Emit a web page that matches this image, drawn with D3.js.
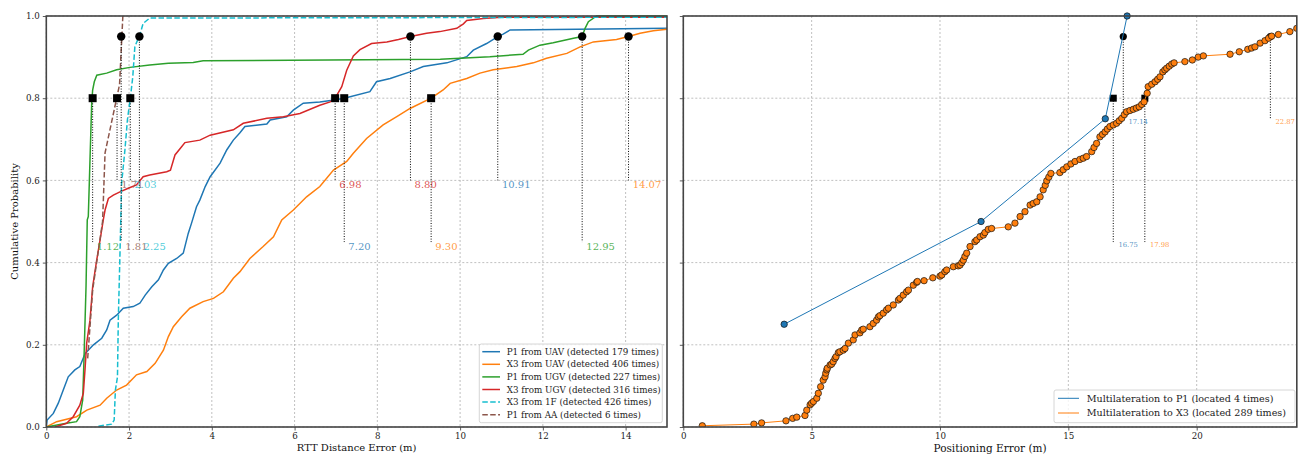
<!DOCTYPE html>
<html><head><meta charset="utf-8">
<script src="https://cdn.jsdelivr.net/npm/d3@7"></script>
<style>
body{margin:0;background:#fff}
svg{display:block}
text{font-family:"DejaVu Serif",serif}
</style>
</head><body>
<svg id="c" width="1298" height="454"></svg>
<script>
// ---------------- DATA ----------------
const leftXTicks = [0, 2, 4, 6, 8, 10, 12, 14];
const yTicks = [0, 0.2, 0.4, 0.6, 0.8, 1.0];
const rightXTicks = [0, 5, 10, 15, 20];

const leftNames = [
  "P1 from UAV (detected 179 times)",
  "X3 from UAV (detected 406 times)",
  "P1 from UGV (detected 227 times)",
  "X3 from UGV (detected 316 times)",
  "X3 from 1F (detected 426 times)",
  "P1 from AA (detected 6 times)"
];
const leftColors = ["#1f77b4", "#ff7f0e", "#2ca02c", "#d62728", "#17becf", "#8c564b"];
const leftDashed = [false, false, false, false, true, true];

const p1FromUAV = [[0,0],[0.02,0.017],[0.17,0.033],[0.29,0.058],[0.41,0.09],[0.53,0.122],[0.69,0.139],[0.81,0.147],[0.94,0.179],[1.14,0.2],[1.34,0.216],[1.46,0.236],[1.54,0.26],[1.70,0.272],[1.86,0.289],[2.10,0.293],[2.26,0.301],[2.39,0.321],[2.55,0.341],[2.71,0.358],[2.83,0.382],[2.95,0.398],[3.15,0.41],[3.31,0.423],[3.43,0.471],[3.51,0.496],[3.63,0.536],[3.71,0.552],[3.84,0.585],[3.96,0.609],[4.20,0.642],[4.36,0.674],[4.52,0.698],[4.68,0.716],[4.80,0.731],[5.33,0.737],[5.41,0.747],[5.81,0.755],[5.97,0.771],[6.21,0.788],[6.61,0.791],[7.0,0.796],[7.20,0.80],[7.82,0.816],[7.98,0.84],[8.31,0.848],[8.79,0.864],[9.11,0.877],[9.68,0.886],[10.16,0.901],[10.32,0.917],[10.64,0.933],[10.91,0.95],[11.04,0.956],[11.21,0.966],[15,0.970]];
const x3FromUAV = [[0,0],[0.25,0.013],[0.73,0.025],[0.98,0.041],[1.30,0.053],[1.46,0.07],[1.70,0.09],[1.94,0.102],[2.18,0.127],[2.43,0.135],[2.63,0.155],[2.83,0.187],[2.95,0.22],[3.07,0.244],[3.27,0.268],[3.47,0.289],[3.79,0.305],[4.04,0.313],[4.28,0.329],[4.52,0.362],[4.68,0.378],[4.92,0.41],[5.24,0.439],[5.49,0.463],[5.69,0.504],[5.97,0.528],[6.29,0.56],[6.61,0.585],[6.94,0.625],[7.26,0.646],[7.42,0.666],[7.74,0.702],[8.14,0.735],[8.47,0.755],[8.79,0.775],[9.30,0.80],[9.59,0.82],[9.76,0.836],[10.16,0.848],[10.48,0.861],[10.80,0.869],[11.37,0.877],[11.77,0.886],[12.09,0.897],[12.58,0.909],[12.90,0.925],[13.22,0.937],[13.78,0.943],[14.07,0.95],[14.35,0.958],[14.67,0.964],[15,0.968]];
const p1FromUGV = [[0,0],[0.49,0.009],[0.73,0.013],[0.81,0.025],[0.88,0.066],[0.91,0.163],[0.96,0.341],[0.99,0.504],[1.015,0.512],[1.056,0.65],[1.097,0.787],[1.12,0.82],[1.16,0.84],[1.22,0.856],[1.46,0.861],[1.70,0.869],[2.02,0.875],[2.5,0.881],[2.95,0.885],[3.55,0.887],[3.79,0.891],[9.52,0.895],[10.72,0.901],[11.52,0.907],[11.65,0.917],[11.93,0.929],[12.25,0.935],[12.74,0.946],[12.95,0.95],[13.02,0.97],[13.1,0.986],[13.3,1.0],[15,1.0]];
const x3FromUGV = [[0.21,0],[0.49,0.009],[0.65,0.025],[0.81,0.053],[0.895,0.082],[0.935,0.139],[0.976,0.204],[1.056,0.26],[1.12,0.341],[1.218,0.406],[1.30,0.455],[1.377,0.504],[1.42,0.528],[1.50,0.556],[1.62,0.564],[1.78,0.572],[1.98,0.581],[2.18,0.589],[2.34,0.609],[2.5,0.613],[2.91,0.621],[3.0,0.625],[3.11,0.662],[3.27,0.682],[3.35,0.692],[3.71,0.698],[3.96,0.71],[4.52,0.723],[4.76,0.739],[5.33,0.751],[5.73,0.755],[6.13,0.763],[6.61,0.783],[6.86,0.791],[6.98,0.80],[7.14,0.828],[7.26,0.868],[7.42,0.903],[7.58,0.918],[7.86,0.933],[8.23,0.937],[8.51,0.943],[8.80,0.95],[9.19,0.958],[9.51,0.962],[9.92,0.970],[10.08,0.981],[10.16,0.989],[10.56,0.994],[11.0,0.997],[15,0.997]];
const x3From1F = [[1.26,0.002],[1.58,0.007],[1.64,0.017],[1.67,0.09],[1.72,0.122],[1.74,0.26],[1.78,0.42],[1.80,0.504],[1.82,0.593],[1.90,0.674],[1.96,0.747],[2.03,0.80],[2.09,0.852],[2.14,0.925],[2.20,0.94],[2.25,0.95],[2.34,0.982],[2.5,0.995],[15,0.997]];
const p1FromAA = [[1.0,0.167],[1.12,0.333],[1.36,0.5],[1.42,0.667],[1.77,0.833],[1.85,1.0]];
const leftSeries = [p1FromUAV, x3FromUAV, p1FromUGV, x3FromUGV, x3From1F, p1FromAA];

// 80th and 95th percentile values, per series (same order)
const leftP80 = [7.20, 9.30, 1.12, 6.98, 2.03, 1.71];
const leftP95 = [10.91, 14.07, 12.95, 8.80, 2.25, 1.81];
const leftLabelLevels = [0.45, 0.6];

const rightNames = ["Multilateration to P1 (located 4 times)", "Multilateration to X3 (located 289 times)"];
const rightColors = ["#1f77b4", "#ff7f0e"];
const multiP1 = [[3.93,0.25],[11.60,0.5],[16.44,0.75],[17.29,1.0]];
const multiX3 = [[0.74,0.003],[2.75,0.007],[3.05,0.010],[4.00,0.015],[4.26,0.021],[4.42,0.024],[4.74,0.028],[4.81,0.041],[4.94,0.054],[5.00,0.058],[5.07,0.062],[5.20,0.070],[5.26,0.082],[5.35,0.098],[5.45,0.114],[5.52,0.122],[5.55,0.131],[5.59,0.139],[5.61,0.143],[5.72,0.151],[5.78,0.153],[5.84,0.159],[5.91,0.167],[5.95,0.171],[6.04,0.181],[6.10,0.183],[6.23,0.187],[6.30,0.191],[6.43,0.204],[6.62,0.212],[6.69,0.224],[6.88,0.229],[6.95,0.236],[7.01,0.238],[7.27,0.244],[7.40,0.252],[7.53,0.260],[7.60,0.268],[7.66,0.271],[7.79,0.277],[7.92,0.285],[7.99,0.289],[8.18,0.297],[8.38,0.309],[8.44,0.313],[8.57,0.321],[8.70,0.329],[8.77,0.333],[8.96,0.345],[9.09,0.352],[9.12,0.354],[9.38,0.356],[9.72,0.363],[10.00,0.367],[10.07,0.370],[10.19,0.378],[10.26,0.382],[10.52,0.390],[10.71,0.392],[10.78,0.394],[10.85,0.400],[10.91,0.406],[10.97,0.415],[11.04,0.423],[11.17,0.439],[11.36,0.451],[11.43,0.455],[11.56,0.463],[11.69,0.467],[11.75,0.473],[11.88,0.481],[12.01,0.483],[12.66,0.487],[12.92,0.496],[13.12,0.512],[13.31,0.524],[13.51,0.540],[13.63,0.544],[13.77,0.548],[13.90,0.560],[14.02,0.577],[14.10,0.588],[14.16,0.599],[14.24,0.608],[14.32,0.617],[14.67,0.619],[14.80,0.626],[14.94,0.633],[15.10,0.640],[15.26,0.646],[15.45,0.651],[15.58,0.654],[15.71,0.658],[15.91,0.670],[16.00,0.680],[16.10,0.690],[16.23,0.706],[16.33,0.712],[16.43,0.718],[16.52,0.725],[16.62,0.731],[16.75,0.735],[16.88,0.739],[16.98,0.745],[17.08,0.751],[17.18,0.760],[17.27,0.767],[17.40,0.770],[17.53,0.773],[17.65,0.776],[17.76,0.779],[17.86,0.785],[17.95,0.791],[18.07,0.812],[18.11,0.828],[18.25,0.834],[18.38,0.840],[18.48,0.846],[18.57,0.852],[18.68,0.864],[18.76,0.869],[18.83,0.873],[18.93,0.878],[19.03,0.883],[19.12,0.886],[19.54,0.889],[19.83,0.893],[20.06,0.900],[20.26,0.903],[21.30,0.907],[21.66,0.913],[21.99,0.919],[22.14,0.922],[22.27,0.925],[22.47,0.934],[22.66,0.940],[22.80,0.946],[22.92,0.951],[23.18,0.955],[23.63,0.962],[23.90,0.970]];
const rightSeries = [multiP1, multiX3];
const rightP80 = [16.75, 17.98];
const rightP95 = [17.14, 22.87];
const rightLabelLevels = [0.45, 0.75];

// ---------------- LAYOUT ----------------
const svg = d3.select("#c");
const L = {x0: 46.3, x1: 667, y0: 16, y1: 427};
const R = {x0: 683.3, x1: 1296.8, y0: 16, y1: 427};
const xL = d3.scaleLinear().domain([0, 15]).range([L.x0, L.x1]);
const xR = d3.scaleLinear().domain([0, 23.9]).range([R.x0, R.x1]);
const y = d3.scaleLinear().domain([0, 1]).range([L.y1, L.y0]);

const defs = svg.append("defs");
[["clipL", L], ["clipR", R]].forEach(([id, b]) => {
  defs.append("clipPath").attr("id", id).append("rect")
    .attr("x", b.x0).attr("y", b.y0 - 4).attr("width", b.x1 - b.x0).attr("height", b.y1 - b.y0 + 4);
});

function grid(x, b, xt) {
  const g = svg.append("g");
  g.selectAll(".gx").data(xt).join("line")
    .attr("x1", d => x(d)).attr("x2", d => x(d)).attr("y1", b.y0).attr("y2", b.y1)
    .attr("stroke", "#b0b0b0").attr("stroke-width", 0.8).attr("stroke-dasharray", "2,2");
  g.selectAll(".gy").data(yTicks).join("line")
    .attr("x1", b.x0).attr("x2", b.x1).attr("y1", d => y(d)).attr("y2", d => y(d))
    .attr("stroke", "#b0b0b0").attr("stroke-width", 0.8).attr("stroke-dasharray", "2,2");
}
grid(xL, L, leftXTicks);
grid(xR, R, rightXTicks);

function axes(x, b, xt, xfmt, showY) {
  const gx = svg.append("g").attr("transform", `translate(0,${b.y1})`)
    .call(d3.axisBottom(x).tickValues(xt).tickSize(3.5).tickPadding(2).tickFormat(xfmt));
  const gy = svg.append("g").attr("transform", `translate(${b.x0},0)`)
    .call(d3.axisLeft(y).tickValues(yTicks).tickSize(3.5).tickPadding(3)
      .tickFormat(showY ? d3.format(".1f") : () => ""));
  [gx, gy].forEach(g => {
    g.select(".domain").remove();
    g.selectAll("line").attr("stroke", "#333").attr("stroke-width", 0.8);
    g.selectAll("text").attr("font-family", "DejaVu Serif").attr("font-size", 8.7).attr("fill", "#222");
  });
}
axes(xL, L, leftXTicks, d3.format("d"), true);
axes(xR, R, rightXTicks, d3.format("d"), false);

// ---------------- LEFT SERIES ----------------
const gL = svg.append("g").attr("clip-path", "url(#clipL)");
const lineL = d3.line().x(d => xL(d[0])).y(d => y(d[1]));
leftSeries.forEach((s, i) => {
  gL.append("path").datum(s).attr("d", lineL).attr("fill", "none")
    .attr("stroke", leftColors[i]).attr("stroke-width", 1.5)
    .attr("stroke-dasharray", leftDashed[i] ? "5.5,2.4" : null);
});

function annotations(g, x, p80, p95, colors, levels, dx, fs, sq, cr, markersOnTop) {
  const items = [];
  p80.forEach((v, i) => items.push({v, p: 0.8, i, shape: "s"}));
  p95.forEach((v, i) => items.push({v, p: 0.95, i, shape: "o"}));
  items.sort((a, b) => a.v - b.v);
  items.forEach((d, k) => d.level = levels[k % 2]);
  const drawMarkers = () => {
    items.forEach(d => {
      if (d.shape === "s") {
        g.append("rect").attr("x", x(d.v) - sq / 2).attr("y", y(d.p) - sq / 2)
          .attr("width", sq).attr("height", sq).attr("fill", "#000");
      } else {
        g.append("circle").attr("cx", x(d.v)).attr("cy", y(d.p)).attr("r", cr).attr("fill", "#000");
      }
    });
  };
  items.forEach(d => {
    g.append("line").attr("x1", x(d.v)).attr("x2", x(d.v)).attr("y1", y(d.p)).attr("y2", y(d.level))
      .attr("stroke", "#000").attr("stroke-width", 1).attr("stroke-dasharray", "1,1.6");
  });
  if (markersOnTop) drawMarkers();
  items.forEach(d => {
    g.append("text").attr("x", x(d.v + dx)).attr("y", y(d.level) + fs * 0.78)
      .attr("font-size", fs).attr("fill", colors[d.i]).attr("fill-opacity", 0.8)
      .text(d.v.toFixed(2));
  });
  return drawMarkers;
}
annotations(svg.append("g"), xL, leftP80, leftP95, leftColors, leftLabelLevels, 0.1, 10, 8, 4.2, true);

// ---------------- RIGHT SERIES ----------------
const gRa = svg.append("g");
const drawRightMarkers = annotations(gRa, xR, rightP80, rightP95, rightColors, rightLabelLevels, 0.2, 6.8, 7, 3.6, false);
drawRightMarkers();
const gR = svg.append("g").attr("clip-path", "url(#clipR)");
const lineR = d3.line().x(d => xR(d[0])).y(d => y(d[1]));
rightSeries.forEach((s, i) => {
  gR.append("path").datum(s).attr("d", lineR).attr("fill", "none")
    .attr("stroke", rightColors[i]).attr("stroke-width", 1);
  gR.selectAll(null).data(s).join("circle")
    .attr("cx", d => xR(d[0])).attr("cy", d => y(d[1])).attr("r", 3.2)
    .attr("fill", rightColors[i]).attr("stroke", "#111").attr("stroke-width", 0.7);
});

// ---------------- FRAMES ----------------
[L, R].forEach(b => {
  svg.append("rect").attr("x", b.x0).attr("y", b.y0).attr("width", b.x1 - b.x0).attr("height", b.y1 - b.y0)
    .attr("fill", "none").attr("stroke", "#444").attr("stroke-width", 1.6);
});

// ---------------- AXIS LABELS ----------------
svg.append("text").attr("x", (L.x0 + L.x1) / 2).attr("y", 451).attr("text-anchor", "middle")
  .attr("font-size", 10).attr("fill", "#111").text("RTT Distance Error (m)");
svg.append("text").attr("transform", `translate(18,${(L.y0 + L.y1) / 2}) rotate(-90)`).attr("text-anchor", "middle")
  .attr("font-size", 10).attr("fill", "#111").text("Cumulative Probability");
svg.append("text").attr("x", (R.x0 + R.x1) / 2).attr("y", 452).attr("text-anchor", "middle")
  .attr("font-size", 10.5).attr("fill", "#111").text("Positioning Error (m)");

// ---------------- LEGENDS ----------------
const lg = svg.append("g");
lg.append("rect").attr("x", 479.3).attr("y", 344).attr("width", 183).attr("height", 78.7).attr("rx", 2)
  .attr("fill", "#fff").attr("fill-opacity", 0.8).attr("stroke", "#ccc").attr("stroke-width", 0.8);
leftNames.forEach((n, i) => {
  const yy = 351.7 + i * 12.6;
  lg.append("line").attr("x1", 482.3).attr("x2", 500).attr("y1", yy).attr("y2", yy)
    .attr("stroke", leftColors[i]).attr("stroke-width", 1.5)
    .attr("stroke-dasharray", leftDashed[i] ? "5.5,2.4" : null);
  lg.append("text").attr("x", 506.7).attr("y", yy + 3).attr("font-size", 8.75).attr("fill", "#222").text(n);
});
const rg = svg.append("g");
rg.append("rect").attr("x", 1054).attr("y", 390).attr("width", 241).attr("height", 32.7).attr("rx", 2)
  .attr("fill", "#fff").attr("fill-opacity", 0.8).attr("stroke", "#ccc").attr("stroke-width", 0.8);
rightNames.forEach((n, i) => {
  const yy = 398.3 + i * 14.7;
  rg.append("line").attr("x1", 1058).attr("x2", 1079).attr("y1", yy).attr("y2", yy)
    .attr("stroke", rightColors[i]).attr("stroke-width", 1);
  rg.append("text").attr("x", 1086.7).attr("y", yy + 3.4).attr("font-size", 9.6).attr("fill", "#222").text(n);
});
</script>
</body></html>
